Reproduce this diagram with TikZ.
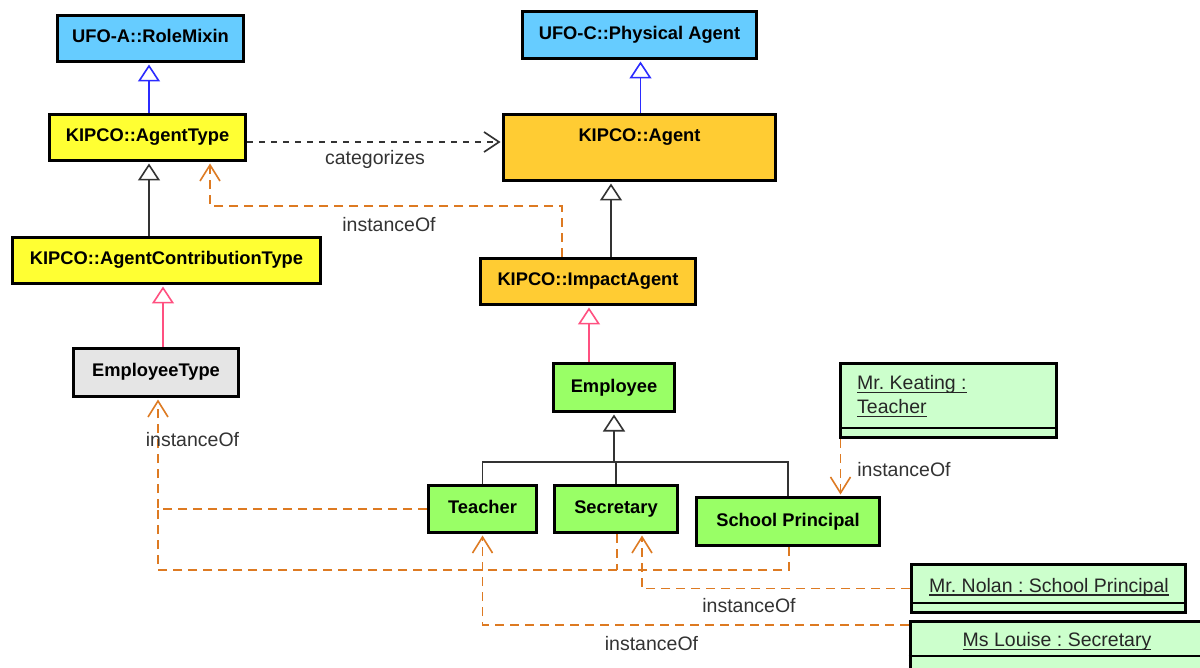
\documentclass[tikz,border=0pt]{standalone}
\usepackage{fontspec}
\setmainfont{Liberation Sans}
\usetikzlibrary{arrows.meta}

\definecolor{ufoblue}{HTML}{66CCFF}
\definecolor{kyellow}{HTML}{FFFF33}
\definecolor{korange}{HTML}{FFCC33}
\definecolor{kgray}{HTML}{E5E5E5}
\definecolor{kgreen}{HTML}{99FF66}
\definecolor{objgreen}{HTML}{CCFFCC}
\definecolor{genblue}{HTML}{2B2BFF}
\definecolor{genpink}{HTML}{FF5080}
\definecolor{instorange}{HTML}{DD7A22}
\definecolor{linegray}{HTML}{333333}

% underline sitting just below the baseline
\newcommand\undl[1]{\setbox0\hbox{#1}\rlap{\vrule height -2.4pt depth 3.6pt width \wd0}\box0}
\frenchspacing

\begin{document}
\begin{tikzpicture}[x=1pt,y=-1pt,
  cls/.style={draw=black, line width=3pt, rectangle, inner sep=0pt,
    font=\fontsize{18.3}{22}\selectfont\bfseries, text=black,
    text height=13pt, text depth=4pt},
  obj/.style={draw=black, line width=3pt, rectangle, inner sep=0pt, fill=objgreen},
  otext/.style={inner sep=0pt, font=\fontsize{19.5}{23}\selectfont, text=black!85},
  lbl/.style={inner sep=0pt, font=\fontsize{19.5}{23}\selectfont, text=linegray},
  divider/.style={draw=black, line width=2pt},
  genbase/.style={line width=1.6pt, shorten >=1.5pt,
    -{Triangle[open, length=17pt, width=22pt, line width=1.6pt]}},
  genb/.style={genbase, draw=genblue},
  genk/.style={genbase, draw=linegray},
  genp/.style={genbase, draw=genpink},
  plain/.style={draw=linegray, line width=1.6pt},
  instline/.style={draw=instorange, line width=1.6pt, dash pattern=on 9pt off 6pt},
  inst/.style={instline, shorten >=1.5pt,
    -{Straight Barb[length=16pt, width=20pt, line width=1.6pt]}},
  cat/.style={draw=linegray, line width=1.6pt, dash pattern=on 6pt off 6pt,
    shorten >=1.5pt, -{Straight Barb[length=15pt, width=20pt, line width=1.6pt]}}
]
\useasboundingbox (0,0) rectangle (1200,668);
\clip (0,0) rectangle (1200,668);
\fill[white] (0,0) rectangle (1200,668);

% class boxes
\node[cls, fill=ufoblue, minimum width=186pt, minimum height=46pt] (rolemixin) at (150.5,38.5) {UFO-A::RoleMixin};
\node[cls, fill=ufoblue, minimum width=234pt, minimum height=47pt] (physagent) at (639.5,35) {UFO-C::Physical Agent};
\node[cls, fill=kyellow, minimum width=196pt, minimum height=46pt] (agenttype) at (147.5,137.5) {KIPCO::AgentType};
\node[cls, fill=korange, minimum width=272pt, minimum height=66pt, text depth=24.6pt] (agent) at (639.5,147.5) {KIPCO::Agent};
\node[cls, fill=kyellow, minimum width=308pt, minimum height=46pt] (act) at (166.5,260.5) {KIPCO::AgentContributionType};
\node[cls, fill=korange, minimum width=215pt, minimum height=46pt] (impact) at (588,281.5) {KIPCO::ImpactAgent};
\node[cls, fill=kgray, minimum width=165pt, minimum height=48pt] (emptype) at (156,372.5) {EmployeeType};
\node[cls, fill=kgreen, minimum width=121pt, minimum height=48pt] (employee) at (614,387.5) {Employee};
\node[cls, fill=kgreen, minimum width=108pt, minimum height=47pt] (teacher) at (482.5,509) {Teacher};
\node[cls, fill=kgreen, minimum width=123pt, minimum height=47pt] (secretary) at (616,509) {Secretary};
\node[cls, fill=kgreen, minimum width=183pt, minimum height=48pt] (sp) at (788,521.5) {School Principal};

% object boxes
\node[obj, minimum width=216pt, minimum height=74pt] (keating) at (948.5,400.5) {};
\draw[divider] ([yshift=11.5pt]keating.south west) -- ([yshift=11.5pt]keating.south east);
\node[otext, anchor=base west] (keatingA) at (857,389.3) {\undl{Mr. Keating :}};
\node[otext, anchor=base west] (keatingB) at (857,413.3) {\undl{Teacher}};

\node[obj, minimum width=274pt, minimum height=48pt] (nolan) at (1048.5,588.5) {};
\draw[divider] ([yshift=11.5pt]nolan.south west) -- ([yshift=11.5pt]nolan.south east);
\node[otext, anchor=base] (nolanname) at (1049,592) {\undl{Mr. Nolan : School Principal}};

\node[obj, minimum width=294pt, minimum height=77pt] (louise) at (1057,660) {};
\draw[divider] ([yshift=-35.5pt]louise.north west) -- ([yshift=-35.5pt]louise.north east);
\node[otext, anchor=base] (louisename) at (1057,646.7) {\undl{Ms Louise : Secretary}};

% generalizations
\coordinate (g0) at ([xshift=1.5pt]agenttype.north);
\draw[genb] (g0) -- (g0 |- rolemixin.south);
\coordinate (g5) at ([xshift=1pt]agent.north);
\draw[genb] (g5) -- (g5 |- physagent.south);
\coordinate (g1) at ([xshift=-17.5pt]act.north);
\draw[genk] (g1) -- (g1 |- agenttype.south);
\coordinate (g2) at ([xshift=23pt]impact.north);
\draw[genk] (g2) -- (g2 |- agent.south);
\coordinate (g3) at ([xshift=7pt]emptype.north);
\draw[genp] (g3) -- (g3 |- act.south);
\coordinate (g4) at ([xshift=-25pt]employee.north);
\draw[genp] (g4) -- (g4 |- impact.south);

% role specializations of Employee
\coordinate (fork) at (614,462);
\draw[genk] (fork) -- (employee.south);
\draw[plain] (teacher.north) |- (fork);
\draw[plain] (sp.north) |- (fork);
\draw[plain] (secretary.north) -- (secretary.north |- fork);

% categorizes
\coordinate (cs) at ([yshift=-4.5pt]agenttype.east);
\draw[cat] (cs) -- (cs -| agent.west);
\node[lbl, anchor=base] (catlbl) at (375,165) {categorizes};

% instanceOf links
\coordinate (ia) at ([xshift=-26pt]impact.north);
\draw[inst] (ia) -- ++(0,-51) -| ([xshift=62.5pt]agenttype.south);
\node[lbl, anchor=base] (instA) at (389,232) {instanceOf};

\coordinate (etjoin) at (158,570);
\draw[inst] (teacher.west) -| ([xshift=2pt]emptype.south);
\coordinate (spd) at ([xshift=1pt]sp.south);
\draw[instline] (spd) |- (etjoin) -- (etjoin |- teacher.west);
\coordinate (secd) at ([xshift=1pt]secretary.south);
\draw[instline] (secd) -- (secd |- etjoin);
\node[lbl, anchor=base] (instB) at (192.5,446) {instanceOf};

\coordinate (ks) at ([xshift=1.5pt]keating.south west);
\draw[inst] (ks) -- (ks |- sp.north);
\node[lbl, anchor=base] (instC) at (904,476.7) {instanceOf};

\draw[inst] (nolan.west) -| ([xshift=26pt]secretary.south);
\node[lbl, anchor=base] (instD) at (749,612.7) {instanceOf};

\coordinate (ls) at ([yshift=-5pt]louise.north west);
\draw[inst] (ls) -| (teacher.south);
\node[lbl, anchor=base] (instE) at (651.5,650) {instanceOf};
\end{tikzpicture}
\end{document}
